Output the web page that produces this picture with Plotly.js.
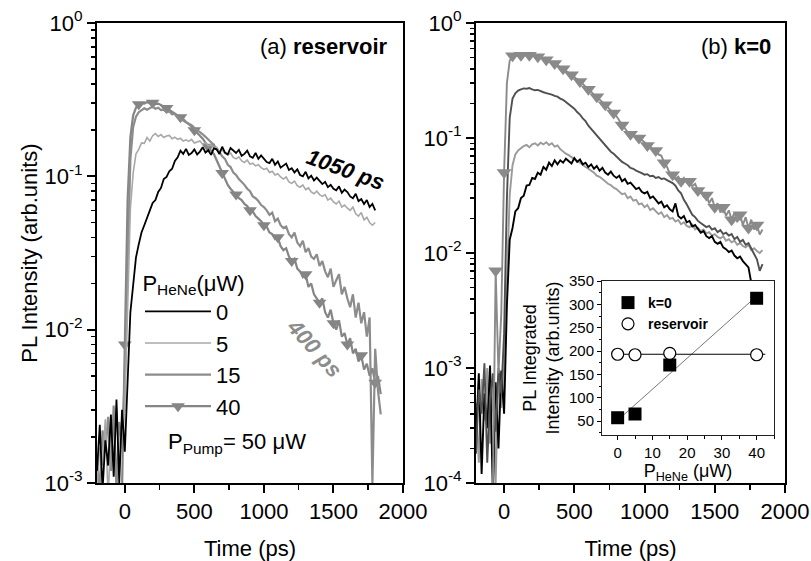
<!DOCTYPE html>
<html><head><meta charset="utf-8">
<script src="https://cdn.plot.ly/plotly-3.0.1.min.js"></script>
<style>html,body{margin:0;padding:0;background:#fff}#chart{width:811px;height:561px}</style>
</head><body><div id="chart"></div>
<script>
// ---------- data ----------
const timePs = [-200,-180,-160,-140,-120,-100,-80,-60,-40,-20,
0,20,40,60,80,100,120,140,160,180,
200,220,240,260,280,300,320,340,360,380,
400,420,440,460,480,500,520,540,560,580,
600,620,640,660,680,700,720,740,760,780,
800,820,840,860,880,900,920,940,960,980,
1000,1020,1040,1060,1080,1100,1120,1140,1160,1180,
1200,1220,1240,1260,1280,1300,1320,1340,1360,1380,
1400,1420,1440,1460,1480,1500,1520,1540,1560,1580,
1600,1620,1640,1660,1680,1700,1720,1740,1760,1780,
1800,1820,1840];

const powerLabels = ['0','5','15','40'];

// (a) reservoir
const resv0 = [0.0012,0.0024,0.0009,0.0019,0.0013,0.0028,0.0011,0.0035,0.0010,0.0030,
0.0016,0.0045,0.0130,0.0195,0.0295,0.0360,0.0430,0.0480,0.0545,0.0600,
0.0670,0.0700,0.0790,0.0840,0.0960,0.0990,0.1080,0.1120,0.1260,0.1330,
0.1470,0.1400,0.1510,0.1380,0.1420,0.1500,0.1390,0.1450,0.1550,0.1430,
0.1480,0.1380,0.1520,0.1500,0.1400,0.1560,0.1430,0.1390,0.1530,0.1480,
0.1420,0.1490,0.1360,0.1400,0.1470,0.1350,0.1320,0.1420,0.1300,0.1370,
0.1310,0.1240,0.1220,0.1300,0.1190,0.1250,0.1140,0.1180,0.1210,0.1100,
0.1130,0.1060,0.1110,0.1020,0.1000,0.1070,0.0970,0.1010,0.0940,0.0980,
0.0940,0.0890,0.0920,0.0850,0.0880,0.0830,0.0810,0.0860,0.0780,0.0820,
0.0790,0.0740,0.0720,0.0770,0.0690,0.0710,0.0660,0.0700,0.0630,0.0660,
0.0600,null,null];
const resv5 = [0.0010,0.0017,0.0013,0.0026,0.0008,0.0021,0.0015,0.0031,0.0012,0.0024,
0.0030,0.0150,0.0620,0.1050,0.1400,0.1500,0.1650,0.1640,0.1790,0.1700,
0.1840,0.1900,0.1820,0.1870,0.1790,0.1830,0.1850,0.1760,0.1800,0.1740,
0.1770,0.1700,0.1730,0.1690,0.1740,0.1650,0.1680,0.1700,0.1620,0.1660,
0.1580,0.1610,0.1530,0.1550,0.1460,0.1490,0.1410,0.1380,0.1420,0.1330,
0.1300,0.1340,0.1260,0.1230,0.1280,0.1200,0.1220,0.1170,0.1190,0.1140,
0.1110,0.1130,0.1060,0.1080,0.1020,0.1040,0.0990,0.0960,0.0990,0.0920,
0.0900,0.0930,0.0870,0.0850,0.0880,0.0820,0.0840,0.0790,0.0770,0.0800,
0.0760,0.0740,0.0760,0.0700,0.0720,0.0680,0.0660,0.0690,0.0630,0.0650,
0.0620,0.0600,0.0630,0.0570,0.0550,0.0580,0.0520,0.0540,0.0500,0.0480,
0.0500,null,null];
const resv15 = [0.0014,0.0009,0.0022,0.0016,0.0027,0.0012,0.0032,0.0009,0.0025,0.0018,
0.0050,0.0300,0.1300,0.2100,0.2450,0.2620,0.2700,0.2780,0.2720,0.2800,
0.2850,0.2760,0.2800,0.2700,0.2720,0.2620,0.2650,0.2540,0.2560,0.2430,
0.2380,0.2310,0.2250,0.2200,0.2160,0.2070,0.2010,0.1960,0.1880,0.1810,
0.1740,0.1660,0.1600,0.1500,0.1440,0.1350,0.1300,0.1190,0.1150,0.1060,
0.1020,0.0960,0.0920,0.0880,0.0830,0.0800,0.0740,0.0720,0.0690,0.0650,
0.0630,0.0600,0.0560,0.0580,0.0510,0.0530,0.0480,0.0460,0.0470,0.0420,
0.0400,0.0430,0.0370,0.0350,0.0380,0.0320,0.0340,0.0300,0.0290,0.0310,
0.0260,0.0280,0.0240,0.0220,0.0250,0.0190,0.0210,0.0230,0.0170,0.0190,
0.0160,0.0140,0.0170,0.0120,0.0150,0.0110,0.0130,0.0090,0.0120,0.0010,
0.0075,0.0040,0.0028];
const resv40 = [0.0008,0.0009,0.0007,0.0009,0.0008,0.0009,0.0006,0.0009,0.0008,0.0009,
0.0080,0.0700,0.1800,0.2500,0.2800,0.2950,0.3000,0.2980,0.3050,0.2990,
0.3020,0.2960,0.2980,0.2900,0.2850,0.2790,0.2700,0.2650,0.2560,0.2500,
0.2430,0.2360,0.2260,0.2200,0.2120,0.2000,0.1930,0.1840,0.1760,0.1650,
0.1560,0.1470,0.1400,0.1270,0.1160,0.1050,0.0960,0.0880,0.0830,0.0790,
0.0760,0.0720,0.0700,0.0660,0.0640,0.0600,0.0590,0.0550,0.0530,0.0510,
0.0480,0.0470,0.0430,0.0420,0.0390,0.0400,0.0350,0.0330,0.0340,0.0300,
0.0280,0.0290,0.0250,0.0240,0.0220,0.0230,0.0190,0.0200,0.0170,0.0160,
0.0150,0.0160,0.0130,0.0120,0.0135,0.0110,0.0100,0.0115,0.0090,0.0095,
0.0080,0.0088,0.0070,0.0075,0.0062,0.0068,0.0055,0.0060,0.0050,0.0056,
0.0045,0.0050,0.0038];

// (b) k=0
const k0_0 = [0.00025,0.00090,0.00012,0.00060,0.00030,0.00105,0.00008,0.00075,0.00020,0.00095,
0.00040,0.00350,0.0130,0.0165,0.0230,0.0245,0.0300,0.0315,0.0385,0.0390,
0.0450,0.0440,0.0500,0.0480,0.0560,0.0530,0.0610,0.0570,0.0640,0.0590,
0.0640,0.0610,0.0660,0.0630,0.0600,0.0670,0.0620,0.0650,0.0590,0.0610,
0.0560,0.0590,0.0540,0.0570,0.0520,0.0550,0.0500,0.0480,0.0510,0.0470,
0.0450,0.0470,0.0420,0.0440,0.0400,0.0410,0.0380,0.0360,0.0370,0.0340,
0.0330,0.0340,0.0300,0.0310,0.0290,0.0270,0.0280,0.0250,0.0260,0.0240,
0.0230,0.0270,0.0210,0.0200,0.0210,0.0185,0.0190,0.0170,0.0175,0.0160,
0.0150,0.0155,0.0140,0.0135,0.0140,0.0125,0.0120,0.0125,0.0112,0.0108,
0.0102,0.0105,0.0095,0.0090,0.0093,0.0085,0.0080,0.0075,0.0055,0.0038,
0.0030,null,null];
const k0_5 = [0.00050,0.00015,0.00080,0.00035,0.00100,0.00022,0.00070,0.00010,0.00085,0.00045,
0.00100,0.0060,0.0320,0.0580,0.0720,0.0780,0.0820,0.0850,0.0870,0.0830,
0.0880,0.0900,0.0860,0.0910,0.0880,0.0920,0.0870,0.0900,0.0840,0.0860,
0.0800,0.0760,0.0730,0.0710,0.0680,0.0650,0.0630,0.0610,0.0580,0.0560,
0.0540,0.0520,0.0500,0.0470,0.0460,0.0440,0.0420,0.0400,0.0390,0.0370,
0.0360,0.0345,0.0325,0.0330,0.0300,0.0310,0.0285,0.0290,0.0265,0.0270,
0.0250,0.0262,0.0236,0.0245,0.0230,0.0218,0.0226,0.0205,0.0214,0.0198,
0.0202,0.0188,0.0194,0.0178,0.0185,0.0172,0.0168,0.0176,0.0160,0.0166,
0.0155,0.0160,0.0148,0.0152,0.0142,0.0146,0.0138,0.0134,0.0140,0.0128,
0.0132,0.0124,0.0128,0.0118,0.0122,0.0115,0.0112,0.0118,0.0106,0.0110,
0.0104,0.0100,0.0106];
const k0_15 = [0.00018,0.00065,0.00040,0.00110,0.00015,0.00055,0.00090,0.00028,0.00100,0.00060,
0.00200,0.0300,0.1500,0.2200,0.2450,0.2580,0.2650,0.2700,0.2680,0.2720,
0.2650,0.2600,0.2620,0.2540,0.2500,0.2460,0.2430,0.2380,0.2320,0.2290,
0.2200,0.2150,0.2060,0.1980,0.1880,0.1800,0.1680,0.1600,0.1480,0.1400,
0.1280,0.1200,0.1120,0.1050,0.0970,0.0920,0.0860,0.0810,0.0760,0.0730,
0.0690,0.0660,0.0620,0.0600,0.0580,0.0550,0.0540,0.0520,0.0510,0.0495,
0.0480,0.0485,0.0465,0.0470,0.0450,0.0458,0.0440,0.0445,0.0430,0.0420,
0.0405,0.0385,0.0350,0.0330,0.0290,0.0265,0.0235,0.0215,0.0205,0.0190,
0.0182,0.0175,0.0168,0.0172,0.0160,0.0164,0.0152,0.0158,0.0146,0.0150,
0.0142,0.0146,0.0132,0.0138,0.0125,0.0130,0.0118,0.0122,0.0108,0.0098,
0.0088,0.0070,0.0080];
const k0_40 = [0.00008,0.00006,0.00009,0.00005,0.00008,0.00007,0.00009,0.00700,0.00090,0.00300,
0.0500,0.3000,0.4700,0.5200,0.5300,0.5150,0.5250,0.5300,0.5200,0.5250,
0.5150,0.5200,0.5100,0.5000,0.4900,0.4800,0.4650,0.4550,0.4450,0.4300,
0.4150,0.4000,0.3850,0.3700,0.3550,0.3400,0.3250,0.3100,0.2950,0.2800,
0.2650,0.2520,0.2400,0.2280,0.2150,0.2050,0.1950,0.1850,0.1750,0.1650,
0.1550,0.1420,0.1300,0.1200,0.1120,0.1080,0.1040,0.1020,0.1000,0.0960,
0.0920,0.0860,0.0850,0.0770,0.0780,0.0720,0.0700,0.0610,0.0560,0.0490,
0.0480,0.0440,0.0460,0.0420,0.0450,0.0410,0.0420,0.0380,0.0400,0.0350,
0.0360,0.0310,0.0320,0.0270,0.0300,0.0250,0.0270,0.0225,0.0250,0.0210,
0.0235,0.0195,0.0225,0.0185,0.0215,0.0175,0.0205,0.0165,0.0195,0.0160,
0.0175,0.0145,0.0160];

// inset: integrated intensity vs HeNe power
const heNePower = [0, 5, 15, 40];
const integK0 = [57, 65, 170, 313];
const integReservoir = [193, 192, 195, 192];
const reservoirLineSpan = [-1.5, 42.5];

// tick labels
const yTickValsA = [0.001, 0.01, 0.1, 1];
const yTickTextA = ['10<sup>-3</sup>','10<sup>-2</sup>','10<sup>-1</sup>','10<sup>0</sup>'];
const yTickValsB = [0.0001, 0.001, 0.01, 0.1, 1];
const yTickTextB = ['10<sup>-4</sup>','10<sup>-3</sup>','10<sup>-2</sup>','10<sup>-1</sup>','10<sup>0</sup>'];

// ---------- build ----------
const FONT = 'Liberation Sans, Arial, sans-serif';
function minorLog(lo, hi){ const v=[]; for(let d=lo; d<hi; d++){ for(let k=2;k<10;k++) v.push(k*Math.pow(10,d)); } return v; }

// linear fit of k=0 data
const n = heNePower.length;
const mx = heNePower.reduce((a,b)=>a+b,0)/n, my = integK0.reduce((a,b)=>a+b,0)/n;
let sxy=0, sxx=0; for(let i=0;i<n;i++){ sxy+=(heNePower[i]-mx)*(integK0[i]-my); sxx+=(heNePower[i]-mx)**2; }
const slope = sxy/sxx, icpt = my - slope*mx;
const fitX = [Math.min(...heNePower), Math.max(...heNePower)];
const fitY = fitX.map(x => icpt + slope*x);
const resMean = integReservoir.reduce((a,b)=>a+b,0)/n;

const cA = {'0':'#000000','5':'#a8a8a8','15':'#8c8c8c','40':'#858585'};
const wA = {'0':1.8,'5':1.6,'15':2.2,'40':2.2};
const cB = {'0':'#000000','5':'#9a9a9a','15':'#505050','40':'#8a8a8a'};

const seriesA = {'0':resv0,'5':resv5,'15':resv15,'40':resv40};
const seriesB = {'0':k0_0,'5':k0_5,'15':k0_15,'40':k0_40};

const traces = [];
['40','15','5','0'].forEach((p) => {
  const t = {x: timePs, y: seriesA[p], xaxis:'x', yaxis:'y', type:'scatter',
    name: p, legendrank: powerLabels.indexOf(p)+1, legendgroup:'a'+p,
    mode: p==='40' ? 'lines+markers' : 'lines',
    line:{color:cA[p], width:wA[p]}, connectgaps:false};
  if(p==='40'){ t.marker = {symbol:'triangle-down', size:12, color:cA[p], maxdisplayed:19}; }
  traces.push(t);
});
['5','0','15','40'].forEach((p) => {
  const t = {x: timePs, y: seriesB[p], xaxis:'x2', yaxis:'y2', type:'scatter', showlegend:false,
    mode: p==='40' ? 'lines+markers' : 'lines', line:{color:cB[p], width:1.9}};
  if(p==='40'){ t.marker = {symbol:'triangle-down', size:13, color:cB[p], maxdisplayed:32}; }
  traces.push(t);
});
traces.push({x: fitX, y: fitY, xaxis:'x3', yaxis:'y3', mode:'lines', line:{color:'#777', width:1}, showlegend:false});
traces.push({x: reservoirLineSpan, y: reservoirLineSpan.map(()=>resMean), xaxis:'x3', yaxis:'y3', mode:'lines', line:{color:'#000', width:1.2}, showlegend:false});
traces.push({x: heNePower, y: integK0, xaxis:'x3', yaxis:'y3', mode:'markers', name:'k=0', legend:'legend2',
  marker:{symbol:'square', size:13, color:'#000'}});
traces.push({x: heNePower, y: integReservoir, xaxis:'x3', yaxis:'y3', mode:'markers', name:'reservoir', legend:'legend2',
  marker:{symbol:'circle', size:12, color:'#fff', line:{color:'#000', width:1.2}}});

const px = v => v/811, py = v => 1 - v/561;
const mainX = (dom) => ({domain:dom, range:[-200,2000], tickmode:'linear', tick0:0, dtick:500,
  ticks:'outside', ticklen:8, tickwidth:2, tickcolor:'#000',
  minor:{ticks:'outside', dtick:250, tick0:0, ticklen:5, tickwidth:1.5, tickcolor:'#000'},
  showline:true, linewidth:2, linecolor:'#000', mirror:true, showgrid:false, zeroline:false,
  tickfont:{size:22, color:'#000'}, title:{text:'Time (ps)', font:{size:22, color:'#000'}}});
const mainY = (rng, vals, text, anchorX) => ({type:'log', domain:[py(483), py(23)], range:rng,
  tickmode:'array', tickvals:vals, ticktext:text, ticks:'outside', ticklen:8, tickwidth:2, tickcolor:'#000',
  minor:{tickmode:'array', tickvals:minorLog(rng[0],rng[1]), ticks:'outside', ticklen:4, tickwidth:1.5, tickcolor:'#000'},
  showline:true, linewidth:2, linecolor:'#000', mirror:true, showgrid:false, zeroline:false,
  tickfont:{size:22, color:'#000'}, anchor:anchorX});

const layout = {
  width:811, height:561, margin:{l:0,r:0,t:0,b:0}, paper_bgcolor:'#fff', plot_bgcolor:'#fff',
  font:{family:FONT, color:'#000'},
  xaxis: Object.assign(mainX([px(97), px(403)]), {anchor:'y'}),
  yaxis: Object.assign(mainY([-3,0], yTickValsA, yTickTextA, 'x'), {title:{text:'PL Intensity (arb.units)', font:{size:22,color:'#000'}}}),
  xaxis2: Object.assign(mainX([px(476), px(785)]), {anchor:'y2'}),
  yaxis2: mainY([-4,0], yTickValsB, yTickTextB, 'x2'),
  xaxis3: {domain:[px(602), px(774)], anchor:'y3', range:[-4.5,45], tickmode:'linear', tick0:0, dtick:10,
    ticks:'outside', ticklen:4, tickwidth:1, tickcolor:'#000', minor:{ticks:'outside', dtick:5, ticklen:3, tickcolor:'#000'},
    showline:true, linewidth:1, linecolor:'#222', mirror:true, showgrid:false, zeroline:false,
    tickfont:{size:15}, title:{text:'P<sub>HeNe</sub> (μW)', font:{size:18}, standoff:2}},
  yaxis3: {domain:[py(435), py(281)], anchor:'x3', range:[20,350], tickmode:'linear', tick0:50, dtick:50,
    ticks:'outside', ticklen:4, tickwidth:1, tickcolor:'#000', minor:{ticks:'outside', dtick:25, tick0:0, ticklen:2, tickcolor:'#000'},
    showline:true, linewidth:1, linecolor:'#222', mirror:true, showgrid:false, zeroline:false,
    tickfont:{size:15}, title:{text:'PL Integrated<br>Intensity (arb.units)', font:{size:18}, standoff:4}},
  legend:{x:px(140), y:py(262), xanchor:'left', yanchor:'top', bgcolor:'rgba(0,0,0,0)', borderwidth:0,
    font:{size:22}, itemwidth:66, traceorder:'normal', tracegroupgap:4,
    title:{text:'P<sub>HeNe</sub>(μW)', side:'top center', font:{size:22}}},
  legend2:{x:px(608), y:py(287), xanchor:'left', yanchor:'top', bgcolor:'rgba(0,0,0,0)',
    font:{size:14, weight:'bold'}, itemwidth:30},
  annotations:[
    {xref:'paper', yref:'paper', x:px(390), y:py(47), xanchor:'right', yanchor:'middle', showarrow:false,
      text:'(a) <b>reservoir</b>', font:{size:22}},
    {xref:'paper', yref:'paper', x:px(773), y:py(47), xanchor:'right', yanchor:'middle', showarrow:false,
      text:'(b) <b>k=0</b>', font:{size:22}},
    {xref:'paper', yref:'paper', x:px(345), y:py(170), xanchor:'center', yanchor:'middle', showarrow:false,
      text:'<b><i>1050 ps</i></b>', textangle:20, font:{size:22, color:'#000'}},
    {xref:'paper', yref:'paper', x:px(315), y:py(348), xanchor:'center', yanchor:'middle', showarrow:false,
      text:'<b><i>400 ps</i></b>', textangle:48, font:{size:22, color:'#8c8c8c'}},
    {xref:'paper', yref:'paper', x:px(237), y:py(443), xanchor:'center', yanchor:'middle', showarrow:false,
      text:'P<sub>Pump</sub>= 50 μW', font:{size:22}}
  ]
};

Plotly.newPlot('chart', traces, layout, {displayModeBar:false, staticPlot:true});
</script></body></html>
